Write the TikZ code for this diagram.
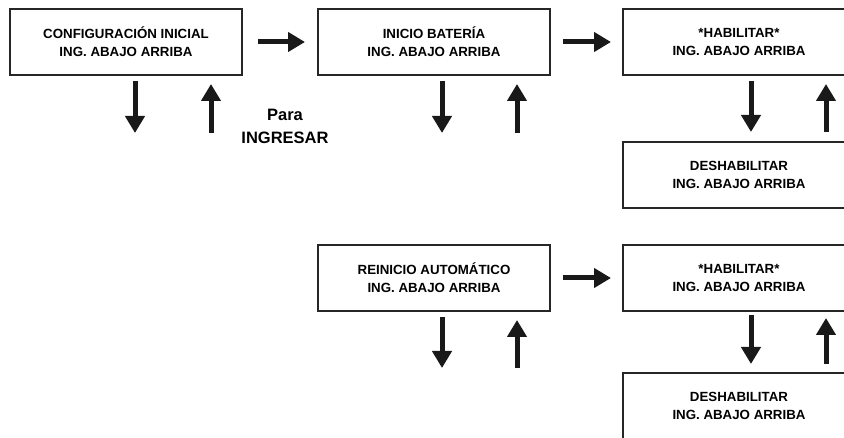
\documentclass[tikz,border=0pt]{standalone}
\usepackage{fontspec}
\setmainfont{Liberation Sans}
\usetikzlibrary{arrows.meta}
\begin{document}
\begin{tikzpicture}[x=1pt,y=-1pt,
  box/.style={draw=black!85,line width=2pt,minimum width=232pt,minimum height=66pt,
    inner sep=0pt,align=center,font=\fontsize{13.3}{18}\selectfont\bfseries,text=black},
  arr/.style={line width=5pt,draw=black!90,-{Triangle[width=19pt,length=17pt]}},
  lbl/.style={align=center,font=\fontsize{16.5}{23}\selectfont\bfseries,text=black}]
\useasboundingbox (0,0) rectangle (844,438);
\clip (0,0) rectangle (844,438);
\node[box] (b1) at (126,42) {CONFIGURACIÓN INICIAL\\ING. ABAJO ARRIBA};
\node[box] (b2) at (434,42) {INICIO BATERÍA\\ING. ABAJO ARRIBA};
\node[box] (b3) at (739,42) {*HABILITAR*\\ING. ABAJO ARRIBA};
\node[box] (b4) at (739,175) {DESHABILITAR\\ING. ABAJO ARRIBA};
\node[box] (b5) at (434,278) {REINICIO AUTOMÁTICO\\ING. ABAJO ARRIBA};
\node[box] (b6) at (739,278) {*HABILITAR*\\ING. ABAJO ARRIBA};
\node[box] (b7) at (739,406) {DESHABILITAR\\ING. ABAJO ARRIBA};
\node[lbl] (para) at (285,126) {Para\\INGRESAR};
% horizontal arrows
\draw[arr] ([xshift=15pt]b1.east) -- ([xshift=-12pt]b2.west);
\draw[arr] ([xshift=12pt]b2.east) -- ([xshift=-11pt]b3.west);
\draw[arr] ([xshift=12pt]b5.east) -- ([xshift=-11pt]b6.west);
% free ends
\coordinate (d1) at (135,133);
\coordinate (u1) at (211,133);
\coordinate (d2) at (442,133);
\coordinate (u2) at (517,133);
\coordinate (d5) at (442,368);
\coordinate (u5) at (517,368);
% vertical arrows
\draw[arr] ([yshift=-5pt]d1 |- b1.south) -- (d1);
\draw[arr] (u1) -- ([yshift=-8pt]u1 |- b1.south);
\draw[arr] ([yshift=-5pt]d2 |- b2.south) -- (d2);
\draw[arr] (u2) -- ([yshift=-8pt]u2 |- b2.south);
\draw[arr] ([xshift=12pt,yshift=-5pt]b3.south) -- ([xshift=12pt,yshift=9pt]b4.north);
\draw[arr] ([xshift=87pt,yshift=9pt]b4.north) -- ([xshift=87pt,yshift=-8pt]b3.south);
\draw[arr] ([yshift=-5pt]d5 |- b5.south) -- (d5);
\draw[arr] (u5) -- ([yshift=-8pt]u5 |- b5.south);
\draw[arr] ([xshift=12pt,yshift=-3pt]b6.south) -- ([xshift=12pt,yshift=8pt]b7.north);
\draw[arr] ([xshift=87pt,yshift=8pt]b7.north) -- ([xshift=87pt,yshift=-6pt]b6.south);
\end{tikzpicture}
\end{document}
